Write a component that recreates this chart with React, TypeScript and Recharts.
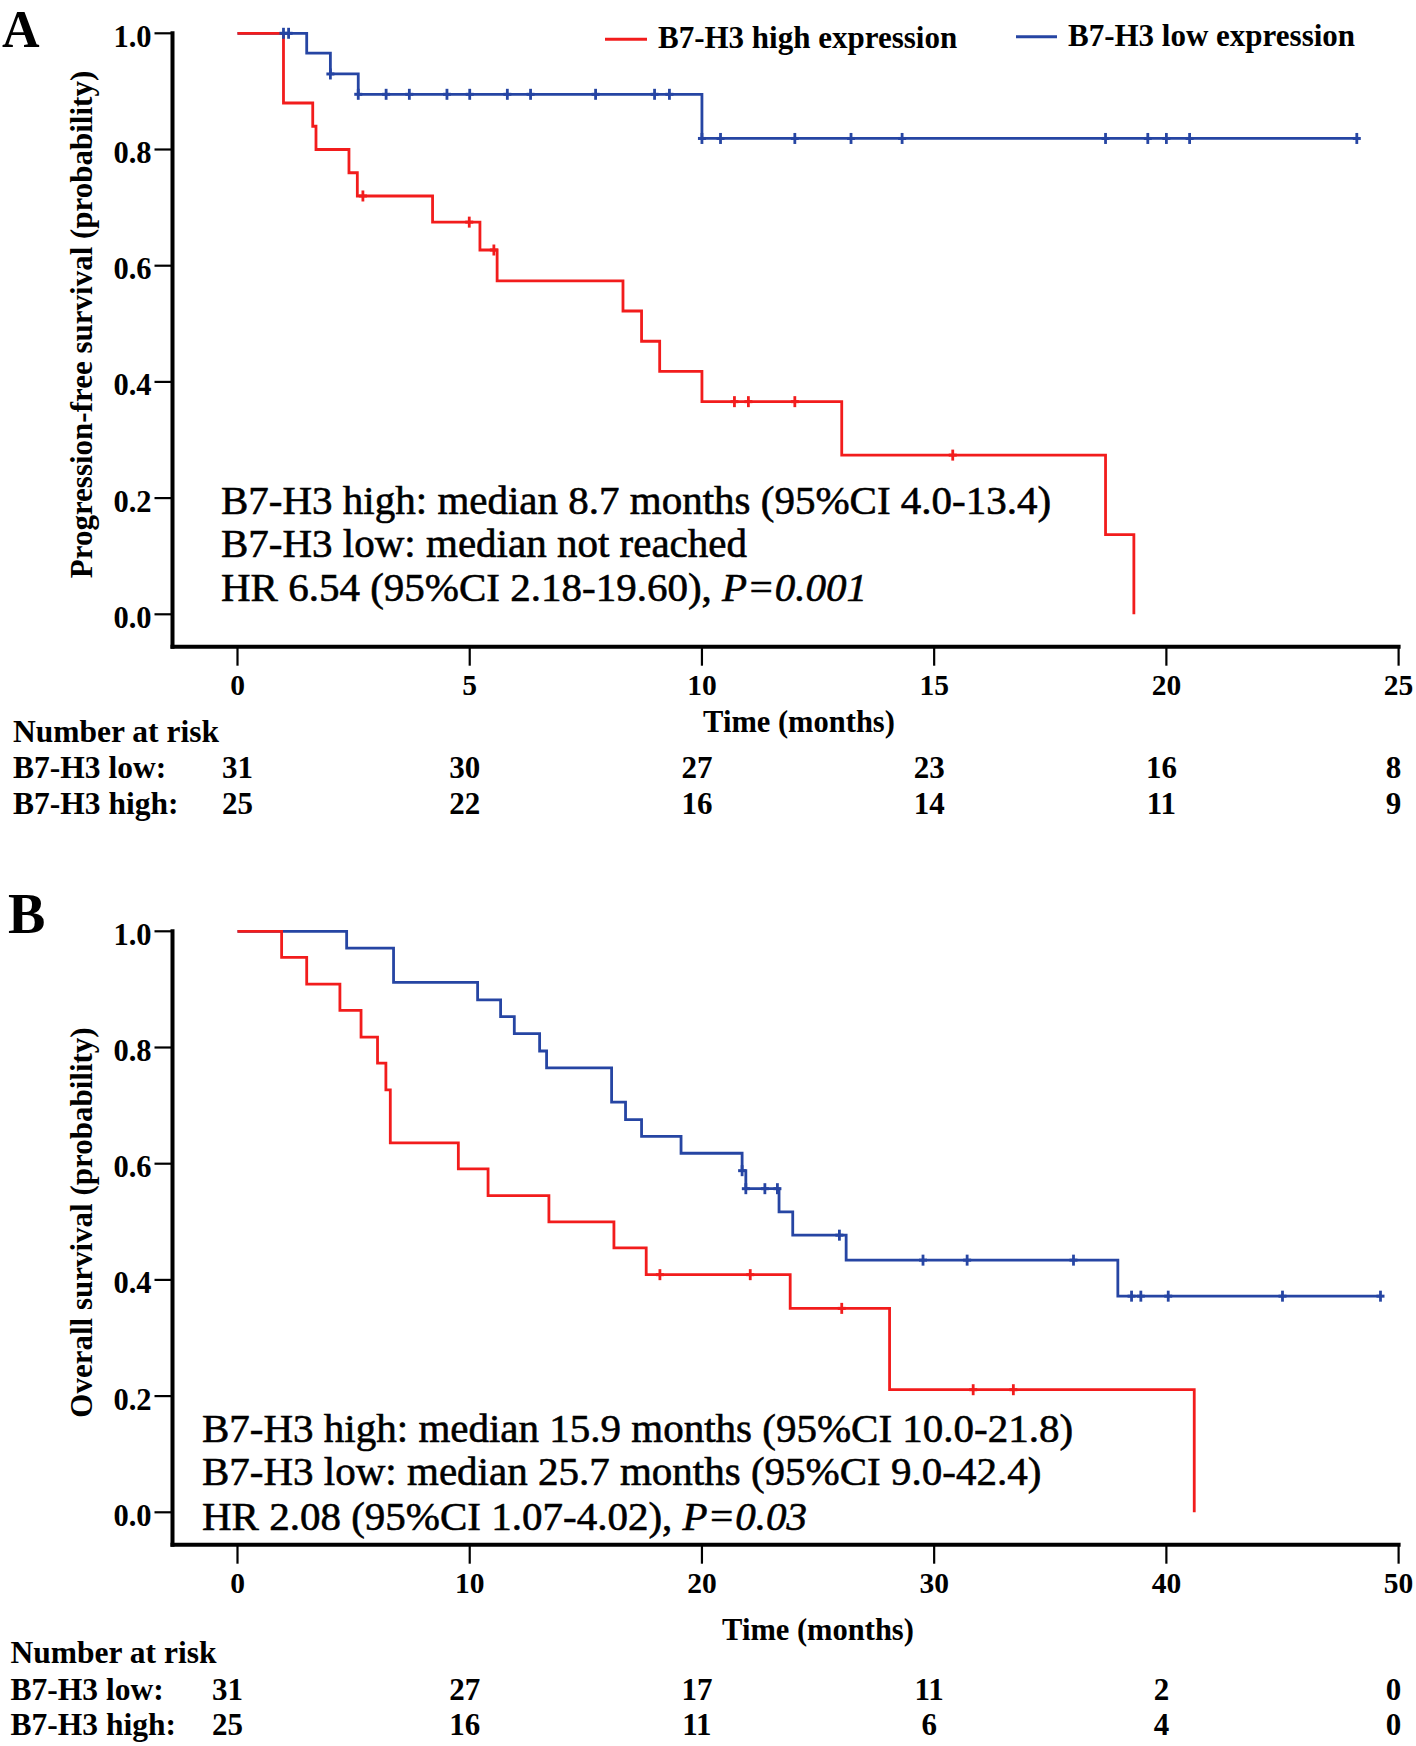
import React from 'react';
import { ComposedChart, Line, XAxis, YAxis, Label } from 'recharts';

// ---- shared axis values ----
const survivalTicks = [0, 0.2, 0.4, 0.6, 0.8, 1.0];
const pfsTimeTicks = [0, 5, 10, 15, 20, 25];
const osTimeTicks = [0, 10, 20, 30, 40, 50];

// ---- Panel A: progression-free survival, KM steps [month, probability] ----
const pfsHigh = [[0, 1], [0.99, 0.88], [1.62, 0.84], [1.69, 0.8], [2.4, 0.76], [2.58, 0.72], [4.2, 0.675], [5.22, 0.627], [5.59, 0.574], [8.3, 0.522], [8.7, 0.47], [9.09, 0.418], [10.0, 0.366], [13.01, 0.274], [18.69, 0.137], [19.3, 0]];
const pfsLow = [[0, 1], [1.49, 0.966], [2.0, 0.93], [2.6, 0.895], [10.0, 0.819], [24.1, 0.819]];
const pfsHighCensored = [2.7, 4.99, 5.52, 10.7, 11.0, 12.0, 15.4];
const pfsLowCensored = [0.99, 1.1, 2.0, 2.6, 3.2, 3.7, 4.51, 5.0, 5.81, 6.31, 7.71, 8.98, 9.3, 10.0, 10.4, 12.0, 13.21, 14.31, 18.69, 19.6, 20.0, 20.5, 24.1];
const pfsRiskLow = [31, 30, 27, 23, 16, 8];
const pfsRiskHigh = [25, 22, 16, 14, 11, 9];

// ---- Panel B: overall survival ----
const osHigh = [[0, 1], [1.9, 0.955], [2.98, 0.909], [4.41, 0.864], [5.32, 0.818], [6.03, 0.773], [6.39, 0.727], [6.58, 0.636], [9.51, 0.591], [10.79, 0.545], [13.41, 0.5], [16.21, 0.455], [17.6, 0.409], [23.8, 0.351], [28.08, 0.211], [41.2, 0]];
const osLow = [[0, 1], [4.7, 0.971], [6.72, 0.912], [10.34, 0.882], [11.33, 0.853], [11.92, 0.824], [13.01, 0.794], [13.31, 0.765], [16.11, 0.706], [16.71, 0.676], [17.4, 0.647], [19.1, 0.618], [21.73, 0.588], [21.89, 0.557], [23.32, 0.517], [23.91, 0.477], [26.21, 0.434], [37.91, 0.372], [49.22, 0.372]];
const osHighCensored = [18.19, 22.08, 26.02, 31.68, 33.41];
const osLowCensored = [21.73, 21.89, 22.71, 23.25, 25.92, 29.52, 31.42, 36.0, 38.5, 38.9, 40.08, 45.0, 49.22];
const osRiskLow = [31, 27, 17, 11, 2, 0];
const osRiskHigh = [25, 16, 11, 6, 4, 0];

const RED = '#f21c1c';
const BLUE = '#2645a3';
const FONT = '"Liberation Serif", "Times New Roman", serif';
const W = 1416;
const H = 848;

const bold = { fontFamily: FONT, fontWeight: 700, fill: '#000' };
// regular weight, slightly thickened like the source rendering
const plain = { fontFamily: FONT, fontWeight: 400, fill: '#000', stroke: '#000', strokeWidth: 0.6 };

const toPoints = (steps: number[][]) => steps.map(([t, s]) => ({ t, s }));

// level of the step curve at time t
const censorPoints = (times: number[], steps: number[][]) =>
  times.map((t) => {
    let s = steps[0][1];
    for (const [st, sv] of steps) if (st <= t) s = sv;
    return { t, s };
  });

const censorMark = (color: string) => (p: any) => (
  <g key={`m-${p.index}`}>
    <line x1={p.cx} x2={p.cx} y1={p.cy - 5.5} y2={p.cy + 5.5} stroke={color} strokeWidth={2.8} />
    <line x1={p.cx - 4} x2={p.cx + 4} y1={p.cy} y2={p.cy} stroke={color} strokeWidth={3} />
  </g>
);

type PanelProps = {
  top: number;
  xMax: number;
  xTicks: number[];
  high: number[][];
  low: number[][];
  highCens: number[];
  lowCens: number[];
  riskLow: number[];
  riskHigh: number[];
  yTitle: string;
  timeX: number;
  timeY: number;
  riskY: number[];
  firstDx: number;
  children?: React.ReactNode;
};

function KMPanel(props: PanelProps) {
  const { top, xMax, xTicks, high, low, highCens, lowCens, riskLow, riskHigh, yTitle, timeX, timeY, riskY, firstDx, children } = props;

  const xTick = (p: any) => {
    const i = xTicks.indexOf(p.payload.value);
    const dx = i === 0 ? firstDx : -5;
    return (
      <g key={`xt-${i}`}>
        <text x={p.x} y={695} textAnchor="middle" style={{ ...bold, fontSize: 29.5 }}>{p.payload.value}</text>
        <text x={p.x + dx} y={riskY[0]} textAnchor="middle" style={{ ...bold, fontSize: 31 }}>{riskLow[i]}</text>
        <text x={p.x + dx} y={riskY[1]} textAnchor="middle" style={{ ...bold, fontSize: 31 }}>{riskHigh[i]}</text>
      </g>
    );
  };

  const yTick = (p: any) => (
    <text key={`yt-${p.index}`} x={p.x} y={p.y + 13.5} textAnchor="end" style={{ ...bold, fontSize: 30.5 }}>
      {Number(p.payload.value).toFixed(1)}
    </text>
  );

  const axisLine = { stroke: '#000', strokeWidth: 4, strokeLinecap: 'square' as const };
  const tickLine = { stroke: '#000', strokeWidth: 2.2 };

  return (
    <div style={{ position: 'absolute', left: 0, top, width: W, height: H }}>
      <ComposedChart width={W} height={H} margin={{ top: 33.3, right: 17.4, bottom: 0, left: 0 }}>
        <XAxis
          type="number"
          dataKey="t"
          domain={[0, xMax]}
          ticks={xTicks}
          interval={0}
          padding={{ left: 65, right: 0 }}
          height={201.3}
          axisLine={axisLine}
          tickLine={tickLine}
          tickSize={19}
          tick={xTick}
        >
          <Label
            content={() => (
              <text x={timeX} y={timeY} textAnchor="middle" style={{ ...bold, fontSize: 30.5 }}>Time (months)</text>
            )}
          />
        </XAxis>
        <YAxis
          type="number"
          dataKey="s"
          domain={[0, 1]}
          ticks={survivalTicks}
          interval={0}
          padding={{ top: 0, bottom: 32.4 }}
          width={172.5}
          axisLine={axisLine}
          tickLine={tickLine}
          tickSize={18}
          tickMargin={3}
          tick={yTick}
        >
          <Label
            content={() => (
              <text x={92} y={324.5} transform="rotate(-90 92 324.5)" textAnchor="middle" style={{ ...bold, fontSize: 31 }}>
                {yTitle}
              </text>
            )}
          />
        </YAxis>
        <Line data={toPoints(low)} dataKey="s" type="stepAfter" stroke={BLUE} strokeWidth={2.8} dot={false} activeDot={false} isAnimationActive={false} />
        <Line data={censorPoints(lowCens, low)} dataKey="s" stroke="none" dot={censorMark(BLUE)} activeDot={false} isAnimationActive={false} />
        <Line data={toPoints(high)} dataKey="s" type="stepAfter" stroke={RED} strokeWidth={2.8} dot={false} activeDot={false} isAnimationActive={false} />
        <Line data={censorPoints(highCens, high)} dataKey="s" stroke="none" dot={censorMark(RED)} activeDot={false} isAnimationActive={false} />
      </ComposedChart>
      <svg width={W} height={H} style={{ position: 'absolute', left: 0, top: 0, pointerEvents: 'none', overflow: 'visible' }}>
        {children}
      </svg>
    </div>
  );
}

export default function App() {
  return (
    <div style={{ position: 'relative', width: W, height: 1746, background: '#fff' }}>
      <style>{'body{margin:0;}'}</style>

      <KMPanel
        top={0}
        xMax={25}
        xTicks={pfsTimeTicks}
        high={pfsHigh}
        low={pfsLow}
        highCens={pfsHighCensored}
        lowCens={pfsLowCensored}
        riskLow={pfsRiskLow}
        riskHigh={pfsRiskHigh}
        yTitle="Progression-free survival (probability)"
        timeX={799}
        timeY={731.7}
        riskY={[778, 813.5]}
        firstDx={0}
      >
        <text x={2} y={47} style={{ ...bold, fontSize: 52 }}>A</text>
        <line x1={605} x2={647} y1={39.3} y2={39.3} stroke={RED} strokeWidth={3} />
        <text x={658} y={48.3} style={{ ...bold, fontSize: 31 }}>B7-H3 high expression</text>
        <line x1={1016} x2={1057} y1={36.7} y2={36.7} stroke={BLUE} strokeWidth={3} />
        <text x={1068} y={45.5} style={{ ...bold, fontSize: 31 }}>B7-H3 low expression</text>
        <text x={221} y={513.5} style={{ ...plain, fontSize: 41 }}>B7-H3 high: median 8.7 months (95%CI 4.0-13.4)</text>
        <text x={221} y={557} style={{ ...plain, fontSize: 41 }}>B7-H3 low: median not reached</text>
        <text x={221} y={600.5} style={{ ...plain, fontSize: 41 }}>
          <tspan>{'HR 6.54 (95%CI 2.18-19.60), '}</tspan>
          <tspan fontStyle="italic">P=0.001</tspan>
        </text>
        <text x={13} y={742} style={{ ...bold, fontSize: 31.5 }}>Number at risk</text>
        <text x={13} y={778} style={{ ...bold, fontSize: 31.5 }}>B7-H3 low:</text>
        <text x={13} y={813.5} style={{ ...bold, fontSize: 31.5 }}>B7-H3 high:</text>
      </KMPanel>

      <KMPanel
        top={898.4}
        xMax={50}
        xTicks={osTimeTicks}
        high={osHigh}
        low={osLow}
        highCens={osHighCensored}
        lowCens={osLowCensored}
        riskLow={osRiskLow}
        riskHigh={osRiskHigh}
        yTitle="Overall survival (probability)"
        timeX={818}
        timeY={741.6}
        riskY={[801.6, 836.6]}
        firstDx={-10}
      >
        <text x={8} y={35} style={{ ...bold, fontSize: 56 }}>B</text>
        <text x={202} y={544.3} style={{ ...plain, fontSize: 41 }}>B7-H3 high: median 15.9 months (95%CI 10.0-21.8)</text>
        <text x={202} y={586.6} style={{ ...plain, fontSize: 41 }}>B7-H3 low: median 25.7 months (95%CI 9.0-42.4)</text>
        <text x={202} y={631.6} style={{ ...plain, fontSize: 41 }}>
          <tspan>{'HR 2.08 (95%CI 1.07-4.02), '}</tspan>
          <tspan fontStyle="italic">P=0.03</tspan>
        </text>
        <text x={10.5} y={764.6} style={{ ...bold, fontSize: 31.5 }}>Number at risk</text>
        <text x={10.5} y={801.6} style={{ ...bold, fontSize: 31.5 }}>B7-H3 low:</text>
        <text x={10.5} y={836.6} style={{ ...bold, fontSize: 31.5 }}>B7-H3 high:</text>
      </KMPanel>
    </div>
  );
}
